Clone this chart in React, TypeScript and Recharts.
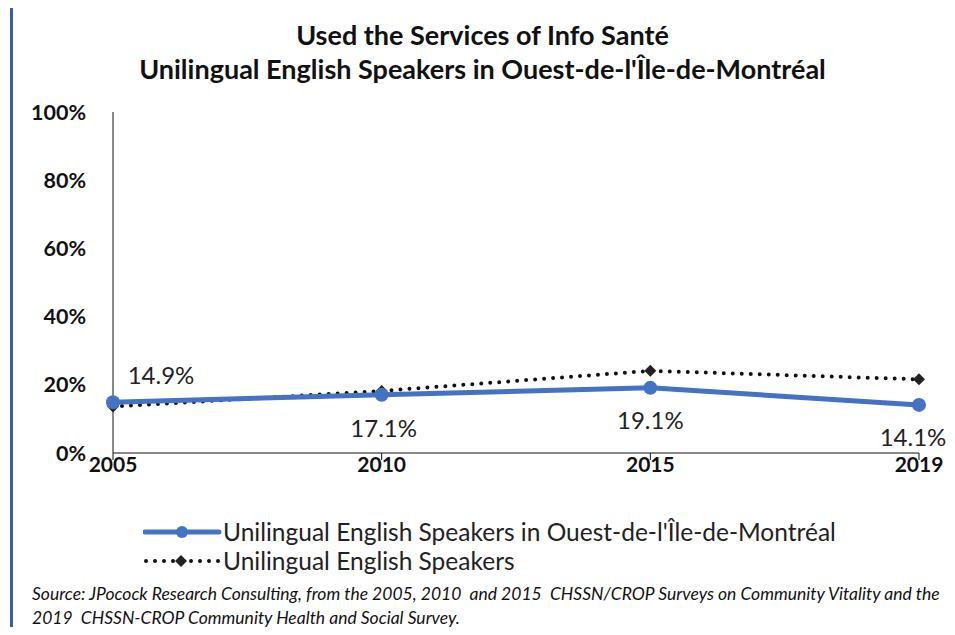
import { LineChart, Line, XAxis, YAxis, Legend } from "recharts";

const years = ["2005", "2010", "2015", "2019"];
const ouestValues = [14.9, 17.1, 19.1, 14.1];
const allValues = [13.6, 18.2, 24.1, 21.6];
const yTicks = [0, 20, 40, 60, 80, 100];

const ouestName = "Unilingual English Speakers in Ouest-de-l'Île-de-Montréal";
const allName = "Unilingual English Speakers";

const data = years.map((year, i) => ({
  year,
  ouest: ouestValues[i],
  all: allValues[i],
}));

const FONT = "Lato, 'Open Sans', sans-serif";
const BLUE = "#4472C4";

// where each value label sits relative to its point
const labelShift = [
  { dx: 48, dy: -28 },
  { dx: 2, dy: 33 },
  { dx: 0, dy: 32 },
  { dx: -6, dy: 32 },
];

const ValueLabel = (props: any) => {
  const { x, y, index, value } = props;
  const s = labelShift[index] || { dx: 0, dy: -20 };
  return (
    <text
      x={x + s.dx}
      y={y + s.dy}
      textAnchor="middle"
      dominantBaseline="central"
      fontFamily={FONT}
      fontSize={24}
      fill="#222"
    >
      {value.toFixed(1)}%
    </text>
  );
};

const Diamond = (props: any) => {
  const { cx, cy } = props;
  if (cx == null || cy == null) return null;
  const r = 6;
  return (
    <path
      d={`M${cx},${cy - r}L${cx + r},${cy}L${cx},${cy + r}L${cx - r},${cy}Z`}
      fill="#222"
    />
  );
};

const customLegend = () => {
  return (
    <div style={{ fontFamily: FONT, fontSize: 24.5, color: "#222", lineHeight: "29px" }}>
      <div style={{ display: "flex", alignItems: "center" }}>
        <svg width={80} height={29}>
          <line x1={2} y1={15} x2={76} y2={15} stroke={BLUE} strokeWidth={5} strokeLinecap="round" />
          <circle cx={39} cy={15} r={6} fill={BLUE} />
        </svg>
        <span>{ouestName}</span>
      </div>
      <div style={{ display: "flex", alignItems: "center" }}>
        <svg width={80} height={29}>
          <line x1={3} y1={15} x2={76} y2={15} stroke="#111" strokeWidth={4} strokeDasharray="0 9" strokeLinecap="round" />
          <path d="M38,9L44,15L38,21L32,15Z" fill="#222" />
        </svg>
        <span>{allName}</span>
      </div>
    </div>
  );
};

export default function App() {
  return (
    <div
      style={{
        position: "relative",
        width: 955,
        height: 635,
        margin: -8,
        background: "#fff",
        overflow: "hidden",
      }}
    >
      <div
        style={{
          position: "absolute",
          left: 10,
          top: 4,
          width: 960,
          height: 640,
          borderTop: "3px solid #3b5ca6",
          borderLeft: "3px solid #3b5ca6",
        }}
      />
      <div
        style={{
          position: "absolute",
          top: 18,
          left: 0,
          width: 965,
          textAlign: "center",
          fontFamily: FONT,
          fontWeight: 700,
          fontSize: 27,
          lineHeight: "34px",
          color: "#111",
        }}
      >
        <div>Used the Services of Info Santé</div>
        <div>Unilingual English Speakers in Ouest-de-l'Île-de-Montréal</div>
      </div>
      <div style={{ position: "absolute", top: 0, left: 0 }}>
        <LineChart
          width={955}
          height={635}
          data={data}
          margin={{ top: 112, right: 36, left: 53, bottom: 152 }}
        >
          <XAxis
            dataKey="year"
            stroke="#111"
            tickLine={{ stroke: "#111" }}
            tickSize={7}
            tickMargin={-3}
            tick={{ fill: "#111", fontFamily: FONT, fontSize: 21, fontWeight: 700 }}
            height={30}
          />
          <YAxis
            domain={[0, 100]}
            ticks={yTicks}
            tickFormatter={(v) => `${v}%`}
            stroke="#111"
            tickLine={false}
            tick={{ fill: "#111", fontFamily: FONT, fontSize: 21.5, fontWeight: 700 }}
            width={60}
            tickMargin={21}
          />
          <Legend
            layout="horizontal"
            verticalAlign="middle"
            align="center"
            content={customLegend}
            wrapperStyle={{ top: 517, left: 143, width: "auto" }}
          />
          <Line
            dataKey="all"
            name={allName}
            stroke="#111"
            strokeWidth={4}
            strokeDasharray="0 9"
            strokeLinecap="round"
            dot={<Diamond />}
            activeDot={false}
            isAnimationActive={false}
          />
          <Line
            dataKey="ouest"
            name={ouestName}
            stroke={BLUE}
            strokeWidth={5}
            dot={{ r: 7, fill: BLUE, stroke: BLUE, strokeWidth: 0 }}
            activeDot={false}
            label={<ValueLabel />}
            isAnimationActive={false}
          />
        </LineChart>
      </div>
      <div
        style={{
          position: "absolute",
          left: 32,
          top: 582,
          width: 930,
          fontFamily: FONT,
          fontStyle: "italic",
          fontSize: 17.5,
          lineHeight: "24px",
          color: "#111",
          whiteSpace: "pre",
        }}
      >
        <div>{"Source: JPocock Research Consulting, from the 2005, 2010  and 2015  CHSSN/CROP Surveys on Community Vitality and the"}</div>
        <div>{"2019  CHSSN-CROP Community Health and Social Survey."}</div>
      </div>
    </div>
  );
}
